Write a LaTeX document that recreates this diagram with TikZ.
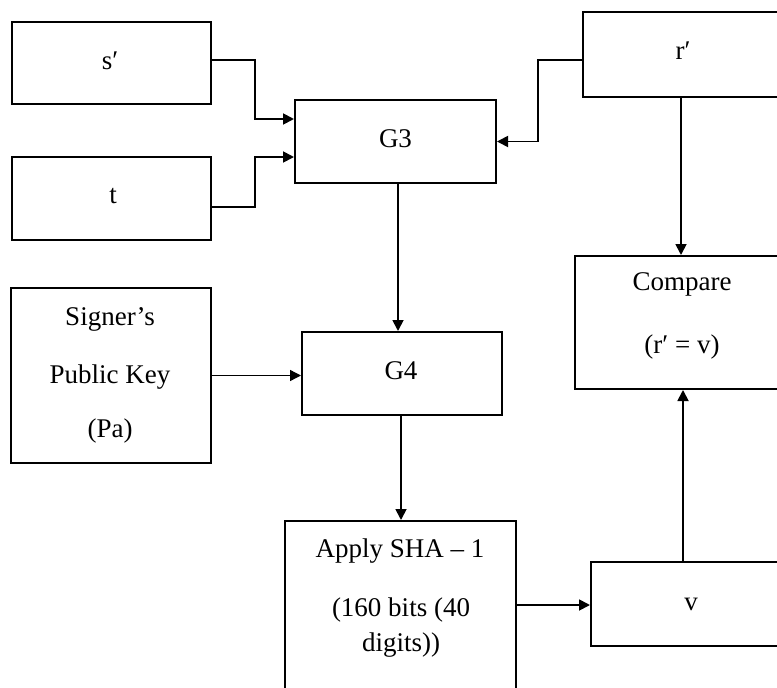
\documentclass[tikz,border=0pt]{standalone}
\usepackage{fontspec}
\setmainfont{Liberation Serif}
\usetikzlibrary{arrows.meta}
\begin{document}
\begin{tikzpicture}[x=1pt,y=-1pt,
  box/.style={draw=black, line width=2pt, rectangle, inner sep=0pt},
  lbl/.style={anchor=base, inner sep=0pt, font=\fontsize{27}{30}\selectfont},
  arr/.style={draw=black, line width=1.8pt, -{Triangle[length=11pt,width=11pt]}},
]
\useasboundingbox (0,0) rectangle (777,688);
\fill[white] (0,0) rectangle (777,688);

% blocks
\node[box, minimum width=199pt, minimum height=82pt]  (s)   at (111.5,63)    {};
\node[box, minimum width=199pt, minimum height=83pt]  (t)   at (111.5,198.5) {};
\node[box, minimum width=196pt, minimum height=85pt]  (r)   at (681,54.5)    {};
\node[box, minimum width=201pt, minimum height=83pt]  (g3)  at (395.5,141.5) {};
\node[box, minimum width=200pt, minimum height=175pt] (pk)  at (111,375.5)   {};
\node[box, minimum width=200pt, minimum height=83pt]  (g4)  at (402,373.5)   {};
\node[box, minimum width=212pt, minimum height=133pt] (cmp) at (681,322.5)   {};
\node[box, minimum width=231pt, minimum height=179pt] (sha) at (400.5,610.5) {};
\node[box, minimum width=200pt, minimum height=84pt]  (v)   at (691,604)     {};

% labels
\node[lbl] (ls)  at (110,69)   {s′};
\node[lbl] (lt)  at (113,203)  {t};
\node[lbl] (lr)  at (683,59)   {r′};
\node[lbl] (lg3) at (395.5,147) {G3};
\node[lbl] (lg4) at (401,379)  {G4};
\node[lbl] (lpk1) at (110,325) {Signer’s};
\node[lbl] (lpk2) at (110,383) {Public Key};
\node[lbl] (lpk3) at (110,437) {(Pa)};
\node[lbl] (lc1) at (682,290)  {Compare};
\node[lbl] (lc2) at (682,353)  {(r′ = v)};
\node[lbl] (lh1) at (400,557)  {Apply SHA – 1};
\node[lbl] (lh2) at (401,616)  {(160 bits (40};
\node[lbl] (lh3) at (401,651)  {digits))};
\node[lbl] (lv)  at (691,610)  {v};

% connectors
\draw[arr] ([yshift=3pt]s.east) -- ++(43,0) |- ([yshift=22.5pt]g3.west);
\draw[arr] ([yshift=-8.5pt]t.east) -- ++(43,0) |- ([yshift=-15.5pt]g3.west);
\draw[arr] ([yshift=-5.5pt]r.west) -- ++(-44,0) |- (g3.east);
\draw[arr] (r.south) -- (cmp.north);
\draw[arr] ([xshift=2.5pt]g3.south) -- ([xshift=-4pt]g4.north);
\draw[arr, line width=1.4pt] (pk.east) -- (pk.east -| g4.west);
\draw[arr] ([xshift=-1pt]g4.south) -- ([xshift=0.5pt]sha.north);
\draw[arr] ([yshift=5.5pt]sha.east) -- ([yshift=5.5pt]sha.east -| v.west);
\draw[arr] ([xshift=-8pt]v.north) -- ([xshift=2pt]cmp.south);
\end{tikzpicture}
\end{document}
